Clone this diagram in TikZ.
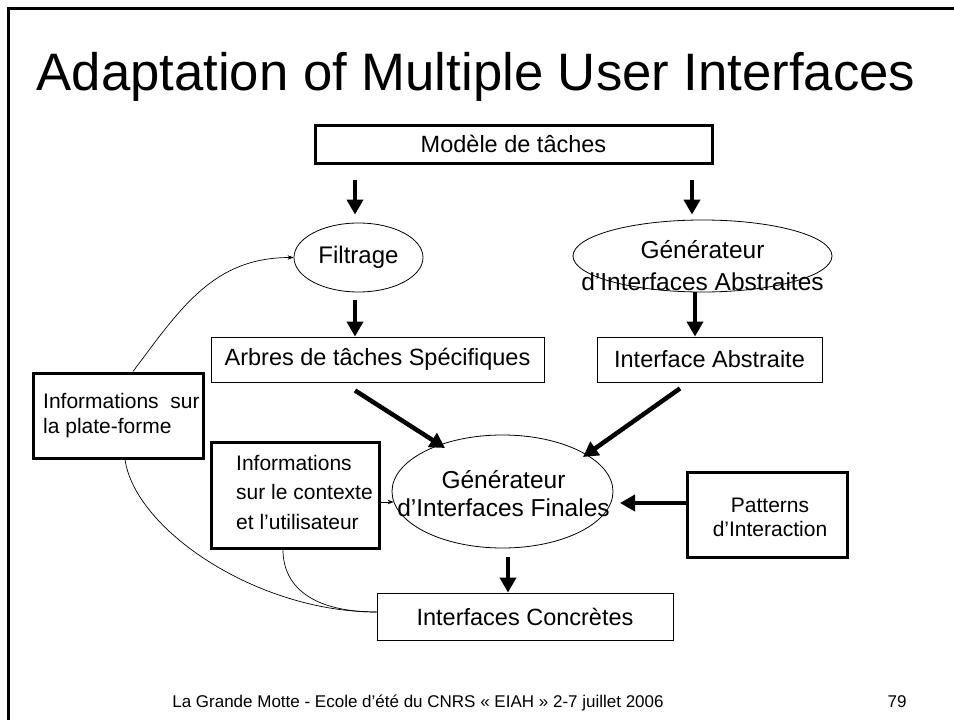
\documentclass[tikz,border=0pt]{standalone}
\usepackage{fontspec}
\setmainfont{Liberation Sans}
\usetikzlibrary{shapes.geometric,arrows.meta,calc}
\begin{document}
\begin{tikzpicture}[x=1pt,y=-1pt,
  thickbox/.style={draw,line width=3pt,rectangle,inner sep=0pt},
  thinbox/.style={draw,line width=0.9pt,rectangle,inner sep=0pt},
  oval/.style={draw,ellipse,line width=0.8pt,inner sep=0pt},
  txt/.style={inner sep=0pt},
  boxfont/.style={font=\fontsize{23.5}{28}\selectfont},
  big/.style={line width=4.5pt,-{Triangle[length=15pt,width=16pt]}},
  small/.style={line width=0.7pt,-{Stealth[length=6pt,width=4.5pt]}},
  link/.style={line width=0.7pt}]
\useasboundingbox (0,0) rectangle (954,720);
% slide frame
\draw[line width=3pt] (8,725) -- (8,8) -- (954,8);
% title
\node[txt,anchor=base,font=\fontsize{52.7}{60}\selectfont] (title) at (476,90) {Adaptation of Multiple User Interfaces};
% boxes
\node[thickbox,boxfont,minimum width=397pt,minimum height=38pt] (task) at (513.5,144) {Modèle de tâches};
\node[oval,minimum width=129pt,minimum height=69pt,font=\fontsize{24}{30}\selectfont] (filt) at (358.5,257.5) {Filtrage};
\node[oval,minimum width=259pt,minimum height=72pt] (gia) at (702.5,256) {};
\node[txt,anchor=north,align=center,font=\fontsize{24.5}{32}\selectfont] (giatext) at (702.5,240) {Générateur\\d’Interfaces Abstraites};
\node[thinbox,boxfont,minimum width=333pt,minimum height=45pt] (arbres) at (377.5,359.5) {Arbres de tâches Spécifiques};
\node[thinbox,boxfont,minimum width=225pt,minimum height=45pt] (ia) at (709.5,359.5) {Interface Abstraite};
\node[oval,minimum width=221pt,minimum height=113pt] (gif) at (502.5,491.5) {};
\node[txt,anchor=north,align=center,font=\fontsize{24.5}{28}\selectfont] (giftext) at (503.5,470) {Générateur\\d’Interfaces Finales};
\node[thickbox,minimum width=160pt,minimum height=85pt] (pat) at (767,514.5) {};
\node[txt,anchor=north,align=center,font=\fontsize{21}{24}\selectfont] (pattext) at (770,498) {Patterns\\d’Interaction};
\node[thinbox,boxfont,minimum width=296pt,minimum height=47pt] (ic) at (525,616.5) {Interfaces Concrètes};
\node[thickbox,minimum width=170pt,minimum height=85pt] (ipf) at (118,415.5) {};
\node[txt,anchor=north west,align=left,font=\fontsize{21}{25}\selectfont] (ipftext) at (43,393) {Informations\ \ sur\\la plate-forme};
\node[thickbox,minimum width=168pt,minimum height=106pt] (ict) at (295,495) {};
\node[txt,anchor=north west,align=left,font=\fontsize{21}{29.5}\selectfont] (icttext) at (236,455) {Informations\\sur le contexte\\et l’utilisateur};
% thick arrows
\draw[big] ([xshift=-3.5pt,yshift=-15pt]task.south -| filt.north) -- ([xshift=-3.5pt,yshift=8pt]filt.north);
\draw[big] ([xshift=-10.5pt,yshift=-15pt]task.south -| gia.north) -- ([xshift=-10.5pt,yshift=5pt]gia.north);
\draw[big] ([xshift=-3.5pt,yshift=-8pt]filt.south) -- (arbres.north -| 355,0);
\draw[big] ([xshift=-7.5pt]gia.south) -- (ia.north -| 695,0);
\draw[big] ($(arbres.south)+(-22.5,8)$) -- ($(gif.center)+(-57.5,-43.5)$);
\draw[big] ($(ia.south)+(-29.5,6)$) -- ($(gif.center)+(80.5,-34.5)$);
\draw[big] ($(pat.west)+(0,-11.5)$) -- ($(gif.center)+(117.5,11.5)$);
\draw[big] ($(gif.south)+(5.5,9)$) -- (ic.north -| 508,0);
% thin connectors
\draw[small] ($(ipf.north)+(15,0)$) .. controls +(48,-64) and +(-80,0) .. (filt.west);
\draw[small] ($(ict.east)+(0,7)$) -- ($(gif.west)+(2,10.5)$);
\draw[link] ($(ipf.south)+(7,0)$) .. controls +(10,70) and +(-120,0) .. ($(ic.west)+(0,-4.5)$);
\draw[link] ($(ict.south)+(-12,0)$) .. controls +(0,40) and +(-60,0) .. ($(ic.west)+(0,-4.5)$);
% footer
\node[txt,anchor=base,font=\fontsize{17}{20}\selectfont] (footer) at (418,707) {La Grande Motte - Ecole d’été du CNRS «~EIAH~» 2-7 juillet 2006};
\node[txt,anchor=base,font=\fontsize{17}{20}\selectfont] (page) at (897,707) {79};
\end{tikzpicture}
\end{document}
